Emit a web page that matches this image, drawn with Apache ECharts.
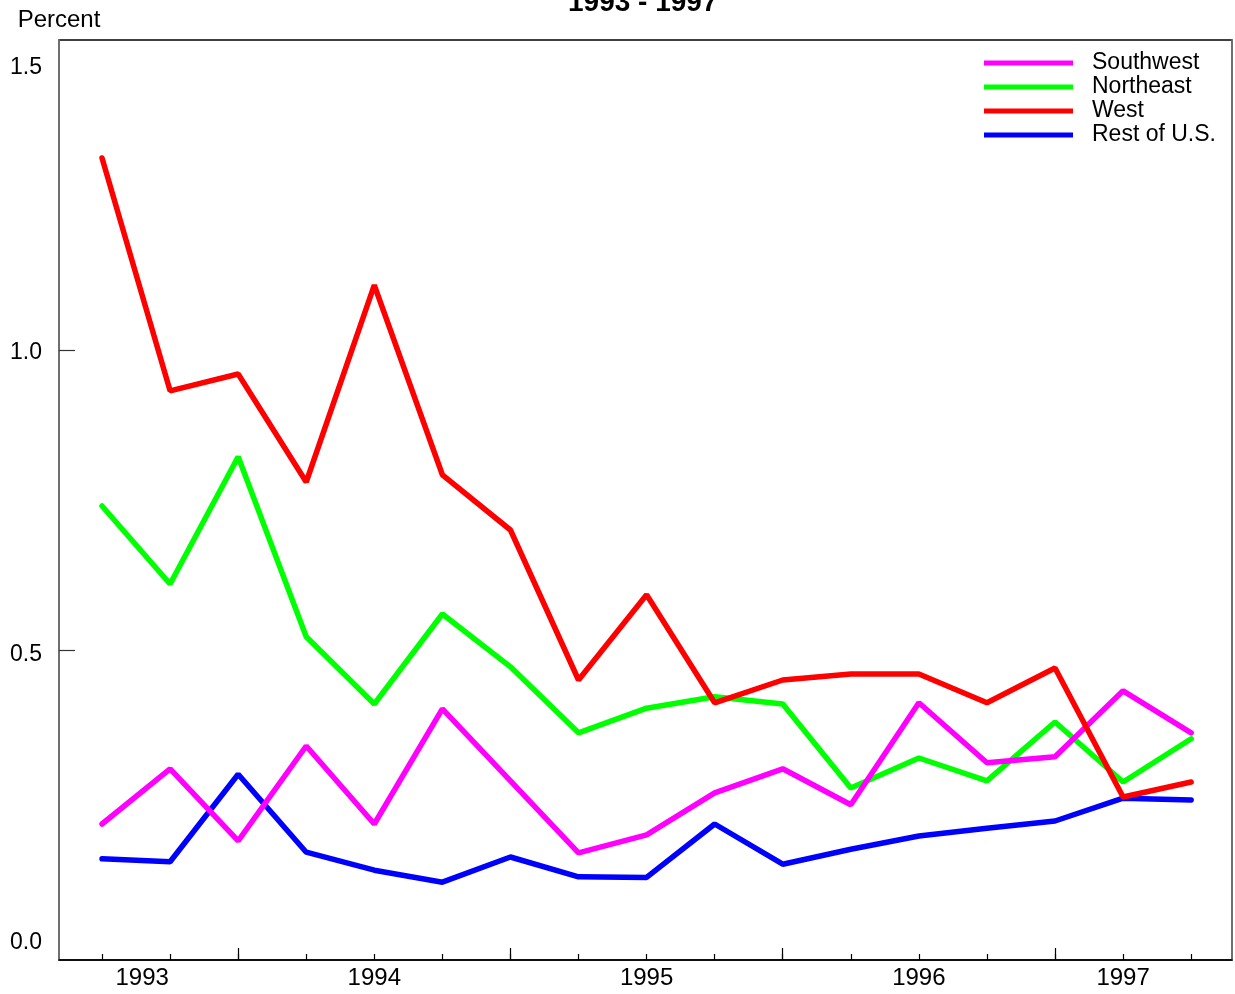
<!DOCTYPE html>
<html>
<head>
<meta charset="utf-8">
<script src="https://cdn.jsdelivr.net/npm/echarts@6/dist/echarts.min.js"></script>
<style>
  html, body { margin: 0; padding: 0; background: #fff; }
  #chart { width: 1235px; height: 994px; }
</style>
</head>
<body>
<div id="chart"></div>
<script>
// Quarterly observations, 17 periods
const periodIndex = [0, 1, 2, 3, 4, 5, 6, 7, 8, 9, 10, 11, 12, 13, 14, 15, 16];

const southwest = [0.21, 0.302, 0.182, 0.34, 0.21, 0.402, 0.282, 0.162, 0.192, 0.262, 0.302, 0.242, 0.412, 0.312, 0.322, 0.432, 0.362];
const northeast = [0.74, 0.61, 0.822, 0.522, 0.41, 0.56, 0.472, 0.362, 0.403, 0.422, 0.41, 0.27, 0.32, 0.282, 0.38, 0.28, 0.352];
const west      = [1.32, 0.932, 0.96, 0.78, 1.108, 0.792, 0.70, 0.45, 0.592, 0.412, 0.45, 0.46, 0.46, 0.412, 0.47, 0.255, 0.28];
const restOfUS  = [0.152, 0.147, 0.293, 0.163, 0.133, 0.113, 0.155, 0.122, 0.121, 0.21, 0.143, 0.168, 0.19, 0.203, 0.215, 0.253, 0.25];

// Axis annotation
const yearLabels = ['1993', '1994', '1995', '1996', '1997'];
const yearLabelAt = [0.59, 4, 8, 12, 15];
const yearBreakTicks = [2, 6, 10, 14];
const yTickLabels = ['0.0', '0.5', '1.0', '1.5'];
const yTickLabelAt = [0.013, 0.492, 0.995, 1.47];
const yTicks = [0.5, 1.0];

const FONT = 'Liberation Sans, Arial, Helvetica, sans-serif';
const X_MIN = -0.632, X_MAX = 16.60;
const Y_MIN = -1 / 60, Y_MAX = 1.5 + 1 / 60;

const pairs = vals => periodIndex.map((p, i) => [p, vals[i]]);

const gridBox = { left: 59, right: 3, top: 40, bottom: 34 };

function lineSeries(name, values, color) {
  return {
    name: name,
    type: 'line',
    xAxisIndex: 0,
    yAxisIndex: 0,
    data: pairs(values),
    showSymbol: false,
    symbol: 'none',
    lineStyle: { color: color, width: 5.5, cap: 'round' },
    itemStyle: { color: color },
    emphasis: { disabled: true }
  };
}

const chart = echarts.init(document.getElementById('chart'), null, { renderer: 'canvas' });

chart.setOption({
  animation: false,
  backgroundColor: '#ffffff',
  title: {
    text: '1993 - 1997',
    left: 568,
    top: -11,
    padding: 0,
    textStyle: { fontFamily: FONT, fontSize: 28, fontWeight: 'bold', color: '#000' }
  },
  legend: {
    orient: 'vertical',
    left: 984,
    top: 51,
    padding: 0,
    itemGap: 0,
    itemWidth: 89,
    itemHeight: 5,
    icon: 'rect',
    data: ['Southwest', 'Northeast', 'West', 'Rest of U.S.'],
    selectedMode: false,
    textStyle: { fontFamily: FONT, fontSize: 23, lineHeight: 14, color: '#000', padding: [10, 0, 0, 14] }
  },
  grid: [
    Object.assign({ show: true, borderColor: '#000', borderWidth: 1.5, backgroundColor: 'transparent' }, gridBox),
    Object.assign({}, gridBox)
  ],
  xAxis: [
    {
      gridIndex: 0,
      type: 'value',
      position: 'bottom',
      min: X_MIN,
      max: X_MAX,
      axisLine: { show: true, onZero: false, lineStyle: { color: '#000', width: 1.5 } },
      axisTick: { show: true, inside: true, length: 6, customValues: periodIndex, lineStyle: { color: '#000', width: 1.2 } },
      axisLabel: {
        show: true,
        customValues: yearLabelAt,
        margin: 6,
        fontFamily: FONT,
        fontSize: 24,
        color: '#000',
        formatter: v => {
          const k = yearLabelAt.findIndex(a => Math.abs(a - v) < 1e-6);
          return k >= 0 ? yearLabels[k] : '';
        }
      },
      splitLine: { show: false }
    },
    {
      gridIndex: 1,
      type: 'value',
      position: 'bottom',
      min: X_MIN,
      max: X_MAX,
      axisLine: { show: false, onZero: false },
      axisTick: { show: true, inside: true, length: 12, customValues: yearBreakTicks, lineStyle: { color: '#000', width: 1.2 } },
      axisLabel: { show: false },
      splitLine: { show: false }
    }
  ],
  yAxis: [
    {
      gridIndex: 0,
      type: 'value',
      position: 'left',
      min: Y_MIN,
      max: Y_MAX,
      name: 'Percent',
      nameLocation: 'end',
      nameGap: 8,
      nameTextStyle: { fontFamily: FONT, fontSize: 24, color: '#000' },
      axisLine: { show: true, onZero: false, lineStyle: { color: '#808080', width: 1.5 } },
      axisTick: { show: true, inside: true, length: 16, customValues: yTicks, lineStyle: { color: '#333', width: 1.2 } },
      axisLabel: {
        show: true,
        customValues: yTickLabelAt,
        margin: 17,
        fontFamily: FONT,
        fontSize: 23,
        color: '#000',
        formatter: v => {
          const k = yTickLabelAt.findIndex(a => Math.abs(a - v) < 1e-6);
          return k >= 0 ? yTickLabels[k] : '';
        }
      },
      splitLine: { show: false }
    },
    {
      gridIndex: 0,
      type: 'value',
      position: 'right',
      min: Y_MIN,
      max: Y_MAX,
      axisLine: { show: true, onZero: false, lineStyle: { color: '#808080', width: 1.5 } },
      axisTick: { show: false },
      axisLabel: { show: false },
      splitLine: { show: false }
    },
    {
      gridIndex: 1,
      type: 'value',
      show: false,
      min: Y_MIN,
      max: Y_MAX
    }
  ],
  series: [
    lineSeries('Rest of U.S.', restOfUS, '#0000ff'),
    lineSeries('Northeast', northeast, '#00ff00'),
    lineSeries('Southwest', southwest, '#ff00ff'),
    lineSeries('West', west, '#ff0000')
  ]
});
</script>
</body>
</html>
